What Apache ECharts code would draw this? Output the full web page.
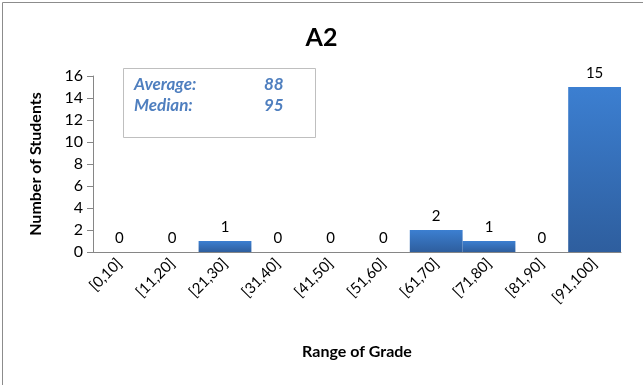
<!DOCTYPE html>
<html>
<head>
<meta charset="utf-8">
<script src="https://cdn.jsdelivr.net/npm/echarts@6/dist/echarts.min.js"></script>
<style>
html,body{margin:0;padding:0;background:#fff;}
#c{width:643px;height:385px;}
</style>
</head>
<body>
<div id="c"></div>
<script>
const categories = ['[0,10]','[11,20]','[21,30]','[31,40]','[41,50]','[51,60]','[61,70]','[71,80]','[81,90]','[91,100]'];
const students = [0,0,1,0,0,0,2,1,0,15];
const statLabels = ['Average:','Median:'];
const statValues = [88,95];
const yTicks = {min:0,max:16,interval:2};

const FONT = 'Lato, "Open Sans", sans-serif';
const chart = echarts.init(document.getElementById('c'));
const statGraphics = [];
statLabels.forEach((l,i)=>{
  statGraphics.push({type:'text',left:134,top:76+i*21,style:{text:l,font:'italic bold 17px '+FONT,fill:'#4f7fbf'}});
  statGraphics.push({type:'text',left:264,top:76+i*21,style:{text:String(statValues[i]),font:'italic bold 17px '+FONT,fill:'#4f7fbf'}});
});
chart.setOption({
  animation:false,
  title:{text:'A2',left:'center',top:20,textStyle:{fontFamily:FONT,fontSize:25,fontWeight:'bold',color:'#000'}},
  grid:{left:93,right:22,top:76,bottom:133},
  xAxis:{
    type:'category',data:categories,
    name:'Range of Grade',nameLocation:'middle',nameGap:92,
    nameTextStyle:{fontFamily:FONT,fontSize:16,fontWeight:'bold',color:'#000'},
    axisLine:{lineStyle:{color:'#868686'}},
    axisTick:{show:false},
    axisLabel:{rotate:45,interval:0,fontFamily:FONT,fontSize:15,color:'#000',margin:9}
  },
  yAxis:{
    type:'value',min:yTicks.min,max:yTicks.max,interval:yTicks.interval,
    name:'Number of Students',nameLocation:'middle',nameGap:49,
    nameTextStyle:{fontFamily:FONT,fontSize:16,fontWeight:'bold',color:'#000'},
    axisLine:{show:true,lineStyle:{color:'#868686'}},
    axisTick:{show:true,length:6,lineStyle:{color:'#868686'}},
    splitLine:{show:false},
    axisLabel:{fontFamily:FONT,fontSize:16,color:'#000',margin:10}
  },
  series:[{
    type:'bar',data:students,barCategoryGap:'0%',
    itemStyle:{color:new echarts.graphic.LinearGradient(0,0,0,1,[{offset:0,color:'#3c7fd1'},{offset:1,color:'#2e5e9e'}])},
    label:{show:true,position:'top',distance:6,fontFamily:FONT,fontSize:15,color:'#000'}
  }],
  graphic:[
    {type:'rect',left:0,top:0,shape:{x:0.5,y:0.5,width:641,height:383},style:{fill:null,stroke:'#8c8c8c',lineWidth:1},silent:true},
    {type:'rect',left:123,top:68,shape:{x:0.5,y:0.5,width:192,height:69},style:{fill:'#fff',stroke:'#bfbfbf',lineWidth:1},z:10},
    ...statGraphics.map(g=>Object.assign(g,{z:11}))
  ]
});
</script>
</body>
</html>
